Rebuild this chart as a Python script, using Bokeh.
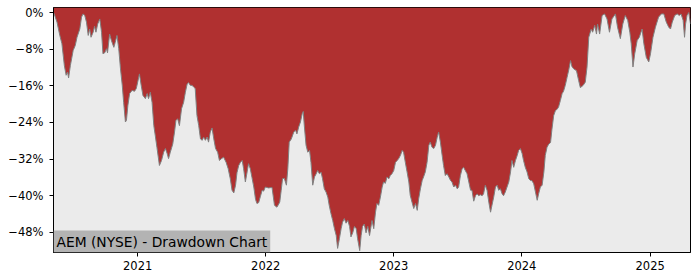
import pandas as pd
from bokeh.plotting import figure
from bokeh.models import Range1d, FixedTicker, Label, ColumnDataSource, DatetimeTickFormatter
from bokeh.embed import file_html
from bokeh.resources import INLINE

dates = [
    "2020-05-06", "2020-05-08", "2020-05-16", "2020-05-24", "2020-05-30", "2020-06-06", "2020-06-11",
    "2020-06-15", "2020-06-18", "2020-06-23", "2020-07-01", "2020-07-07", "2020-07-12", "2020-07-20",
    "2020-07-25", "2020-07-29", "2020-08-03", "2020-08-08", "2020-08-13", "2020-08-17", "2020-08-21",
    "2020-08-27", "2020-08-31", "2020-09-04", "2020-09-09", "2020-09-15", "2020-09-20", "2020-09-24",
    "2020-09-29", "2020-10-04", "2020-10-07", "2020-10-13", "2020-10-18", "2020-10-25", "2020-10-29",
    "2020-11-03", "2020-11-08", "2020-11-13", "2020-11-18", "2020-11-22", "2020-11-27", "2020-11-30",
    "2020-12-04", "2020-12-09", "2020-12-16", "2020-12-23", "2020-12-28", "2021-01-01", "2021-01-06",
    "2021-01-11", "2021-01-16", "2021-01-23", "2021-01-28", "2021-02-01", "2021-02-06", "2021-02-11",
    "2021-02-16", "2021-02-20", "2021-02-25", "2021-03-04", "2021-03-10", "2021-03-16", "2021-03-21",
    "2021-03-26", "2021-03-30", "2021-04-04", "2021-04-11", "2021-04-16", "2021-04-20", "2021-04-25",
    "2021-04-30", "2021-05-06", "2021-05-12", "2021-05-17", "2021-05-22", "2021-05-26", "2021-05-31",
    "2021-06-05", "2021-06-10", "2021-06-14", "2021-06-19", "2021-06-24", "2021-06-29", "2021-07-04",
    "2021-07-08", "2021-07-13", "2021-07-18", "2021-07-22", "2021-07-27", "2021-08-01", "2021-08-06",
    "2021-08-11", "2021-08-17", "2021-08-22", "2021-08-28", "2021-09-03", "2021-09-10", "2021-09-16",
    "2021-09-22", "2021-09-27", "2021-10-02", "2021-10-07", "2021-10-11", "2021-10-16", "2021-10-21",
    "2021-10-26", "2021-10-30", "2021-11-04", "2021-11-09", "2021-11-13", "2021-11-18", "2021-11-23",
    "2021-11-28", "2021-12-03", "2021-12-07", "2021-12-12", "2021-12-17", "2021-12-22", "2021-12-26",
    "2021-12-31", "2022-01-09", "2022-01-19", "2022-01-26", "2022-02-02", "2022-02-10", "2022-02-14",
    "2022-02-18", "2022-02-23", "2022-03-01", "2022-03-05", "2022-03-09", "2022-03-15", "2022-03-22",
    "2022-03-27", "2022-03-31", "2022-04-05", "2022-04-10", "2022-04-15", "2022-04-18", "2022-04-21",
    "2022-04-26", "2022-05-01", "2022-05-06", "2022-05-10", "2022-05-15", "2022-05-20", "2022-05-25",
    "2022-05-29", "2022-06-03", "2022-06-08", "2022-06-12", "2022-06-17", "2022-06-22", "2022-06-27",
    "2022-07-01", "2022-07-06", "2022-07-11", "2022-07-16", "2022-07-21", "2022-07-25", "2022-07-30",
    "2022-08-04", "2022-08-08", "2022-08-13", "2022-08-18", "2022-08-23", "2022-08-28", "2022-09-01",
    "2022-09-06", "2022-09-11", "2022-09-16", "2022-09-20", "2022-09-26", "2022-09-30", "2022-10-04",
    "2022-10-09", "2022-10-14", "2022-10-19", "2022-10-24", "2022-10-31", "2022-11-05", "2022-11-10",
    "2022-11-14", "2022-11-19", "2022-11-24", "2022-11-29", "2022-12-03", "2022-12-08", "2022-12-13",
    "2022-12-18", "2022-12-22", "2022-12-27", "2023-01-01", "2023-01-06", "2023-01-11", "2023-01-15",
    "2023-01-20", "2023-01-25", "2023-01-29", "2023-02-03", "2023-02-08", "2023-02-13", "2023-02-17",
    "2023-02-22", "2023-02-27", "2023-03-04", "2023-03-09", "2023-03-13", "2023-03-18", "2023-03-23",
    "2023-03-27", "2023-04-01", "2023-04-06", "2023-04-11", "2023-04-15", "2023-04-20", "2023-04-25",
    "2023-04-30", "2023-05-05", "2023-05-09", "2023-05-14", "2023-05-19", "2023-05-23", "2023-05-28",
    "2023-06-02", "2023-06-07", "2023-06-12", "2023-06-16", "2023-06-21", "2023-06-26", "2023-07-01",
    "2023-07-05", "2023-07-10", "2023-07-15", "2023-07-19", "2023-07-24", "2023-07-29", "2023-08-03",
    "2023-08-08", "2023-08-12", "2023-08-17", "2023-08-22", "2023-08-27", "2023-08-31", "2023-09-05",
    "2023-09-10", "2023-09-14", "2023-09-19", "2023-09-24", "2023-09-29", "2023-10-04", "2023-10-08",
    "2023-10-13", "2023-10-18", "2023-10-23", "2023-10-27", "2023-11-01", "2023-11-06", "2023-11-10",
    "2023-11-15", "2023-11-20", "2023-11-25", "2023-11-30", "2023-12-04", "2023-12-09", "2023-12-14",
    "2023-12-19", "2023-12-23", "2023-12-28", "2024-01-02", "2024-01-06", "2024-01-11", "2024-01-16",
    "2024-01-21", "2024-01-26", "2024-01-30", "2024-02-04", "2024-02-09", "2024-02-14", "2024-02-18",
    "2024-02-23", "2024-02-28", "2024-03-04", "2024-03-08", "2024-03-13", "2024-03-18", "2024-03-23",
    "2024-03-27", "2024-04-01", "2024-04-06", "2024-04-11", "2024-04-15", "2024-04-20", "2024-04-25",
    "2024-04-29", "2024-05-04", "2024-05-09", "2024-05-14", "2024-05-19", "2024-05-23", "2024-05-28",
    "2024-06-05", "2024-06-11", "2024-06-16", "2024-06-24", "2024-06-30", "2024-07-05", "2024-07-10",
    "2024-07-17", "2024-07-21", "2024-07-27", "2024-08-01", "2024-08-04", "2024-08-10", "2024-08-17",
    "2024-08-24", "2024-08-31", "2024-09-07", "2024-09-14", "2024-09-24", "2024-09-30", "2024-10-08",
    "2024-10-15", "2024-10-22", "2024-10-29", "2024-11-04", "2024-11-08", "2024-11-13", "2024-11-18",
    "2024-11-25", "2024-12-01", "2024-12-09", "2024-12-14", "2024-12-21", "2024-12-28", "2025-01-02",
    "2025-01-09", "2025-01-16", "2025-01-25", "2025-02-02", "2025-02-09", "2025-02-16", "2025-02-23",
    "2025-02-28", "2025-03-05", "2025-03-12", "2025-03-19", "2025-03-25", "2025-03-30", "2025-04-05",
    "2025-04-09", "2025-04-12", "2025-04-16", "2025-04-21", "2025-04-26",
]

drawdown = [
    0.0, -0.3, -2.1, -5.0, -6.8, -11.6, -13.7,
    -13.0, -14.3, -11.6, -8.3, -7.2, -5.4, -3.6,
    -1.0, -0.3, -0.6, -2.1, -5.0, -3.6, -5.4,
    -4.3, -3.0, -4.3, -2.5, -1.4, -4.3, -9.0,
    -8.8, -7.9, -8.8, -4.7, -6.1, -7.6, -6.5,
    -5.0, -7.9, -12.3, -15.9, -19.6, -23.9, -23.5,
    -20.3, -17.7, -17.0, -17.2, -16.6, -15.2, -13.4,
    -15.9, -18.1, -18.8, -17.7, -18.8, -17.4, -19.6,
    -24.7, -26.8, -29.5, -33.4, -32.3, -30.5, -29.7,
    -30.8, -31.9, -30.5, -28.7, -26.1, -23.6, -23.2,
    -24.7, -21.0, -19.6, -17.4, -15.6, -15.3, -15.9,
    -15.9, -16.3, -16.6, -22.5, -24.7, -27.6, -27.9,
    -27.2, -27.9, -27.2, -28.3, -26.1, -25.2, -27.6,
    -29.7, -30.5, -32.3, -31.9, -31.6, -32.7, -34.1,
    -36.3, -38.8, -39.4, -37.7, -35.0, -33.4, -32.7,
    -32.3, -34.1, -37.0, -34.8, -33.0, -34.1, -36.1,
    -38.1, -40.8, -41.7, -41.5, -40.1, -38.8, -39.0,
    -38.1, -38.3, -38.2, -42.1, -42.5, -41.4, -38.9,
    -36.3, -36.2, -37.7, -34.1, -28.3, -27.6, -26.1,
    -25.7, -26.5, -25.0, -23.9, -22.1, -21.6, -24.7,
    -29.0, -30.5, -30.1, -32.7, -37.7, -35.9, -35.2,
    -34.5, -35.2, -34.9, -36.3, -38.5, -39.2, -40.3,
    -42.1, -43.9, -45.4, -47.2, -48.7, -51.5, -49.4,
    -47.2, -45.8, -45.0, -46.0, -45.4, -46.7, -49.0,
    -48.1, -46.7, -47.2, -49.4, -52.0, -48.7, -46.7,
    -46.2, -48.1, -46.7, -48.7, -45.4, -47.2, -43.6,
    -41.7, -42.1, -40.3, -38.1, -37.0, -37.3, -35.9,
    -36.3, -35.6, -35.2, -34.5, -32.7, -32.3, -31.9,
    -31.2, -30.1, -30.5, -32.7, -34.8, -37.0, -39.9,
    -41.4, -42.8, -41.7, -43.2, -40.7, -38.5, -36.7,
    -35.9, -34.8, -32.7, -29.0, -28.3, -29.4, -29.7,
    -29.0, -27.2, -26.1, -28.3, -31.2, -33.4, -35.6,
    -35.2, -35.9, -36.7, -37.0, -38.1, -37.7, -38.5,
    -38.1, -35.6, -34.1, -33.8, -34.5, -35.2, -37.0,
    -38.8, -38.8, -41.2, -40.0, -39.6, -40.0, -39.8,
    -40.0, -39.6, -37.7, -38.8, -41.4, -43.6, -42.1,
    -40.3, -38.1, -37.7, -38.8, -38.5, -39.6, -40.0,
    -39.2, -38.1, -37.0, -34.8, -32.3, -33.8, -32.3,
    -31.2, -30.1, -29.7, -30.8, -32.3, -33.8, -34.8,
    -36.3, -36.7, -36.7, -37.4, -39.2, -41.0, -39.6,
    -38.1, -37.7, -34.8, -31.2, -29.4, -28.7, -28.4,
    -25.5, -22.5, -21.4, -21.1, -20.6, -19.2, -17.7,
    -17.2, -15.9, -14.2, -12.5, -10.5, -11.8, -12.3,
    -12.7, -14.8, -16.4, -15.9, -15.2, -11.9, -5.4,
    -3.6, -4.3, -2.8, -4.7, -2.5, -4.7, -0.65,
    -0.3, -1.4, -4.3, -1.4, -0.3, -3.2, -5.7,
    -2.5, -0.65, -1.7, -4.3, -6.8, -11.9, -9.0,
    -6.1, -5.4, -3.6, -6.8, -9.8, -10.8, -9.0,
    -5.4, -3.2, -1.0, -0.3, -0.3, -2.1, -3.2,
    -3.6, -2.1, -0.65, -0.3, -0.65, -0.3, -1.7,
    -5.4, -2.5, -0.65, 0.0, -2.5,
]

ytick_values = [0, -8, -16, -24, -32, -40, -48]
ytick_labels = ["0%", "\u22128%", "\u221216%", "\u221224%", "\u221232%", "\u221240%", "\u221248%"]
xtick_years = ["2021-01-01", "2022-01-01", "2023-01-01", "2024-01-01", "2025-01-01"]
title_text = "AEM (NYSE) - Drawdown Chart"

y_top = 1.1
y_bottom = -52.4

x = pd.to_datetime(dates)
src = ColumnDataSource(dict(x=x, dd=drawdown, top=[y_top] * len(drawdown)))

p = figure(width=700, height=280, x_axis_type="datetime", output_backend="svg",
           toolbar_location=None,
           x_range=Range1d(x[0], x[-1]), y_range=Range1d(y_bottom, y_top),
           min_border_left=53, min_border_right=10, min_border_top=7, min_border_bottom=28)

p.background_fill_color = "#ebebeb"
p.border_fill_color = "white"
p.outline_line_color = "black"
p.outline_line_width = 1
p.xgrid.visible = False
p.ygrid.visible = False

p.varea(x="x", y1="dd", y2="top", source=src, fill_color="#b03030")
p.line(x="x", y="dd", source=src, line_color="#808080", line_width=1)

p.yaxis.ticker = FixedTicker(ticks=ytick_values)
p.yaxis.major_label_overrides = {v: l for v, l in zip(ytick_values, ytick_labels)}
xt = [pd.Timestamp(d).value // 10**6 for d in xtick_years]
p.xaxis.ticker = FixedTicker(ticks=xt)
p.xaxis.formatter = DatetimeTickFormatter(years="%Y", months="%Y", days="%Y", hours="%Y",
                                          minutes="%Y", seconds="%Y", milliseconds="%Y",
                                          microseconds="%Y", minsec="%Y", hourmin="%Y")

for ax in (p.xaxis[0], p.yaxis[0]):
    ax.axis_line_color = "black"
    ax.major_tick_line_color = "black"
    ax.major_tick_out = 4
    ax.major_tick_in = 0
    ax.minor_tick_line_color = None
    ax.major_label_text_font = "DejaVu Sans"
    ax.major_label_text_font_size = "11.5px"
    ax.major_label_text_color = "black"
p.xaxis.major_label_standoff = 4
p.yaxis.major_label_standoff = 6

lbl = Label(x=x[0], y=y_bottom, x_units="data", y_units="data", text=title_text,
            text_font="DejaVu Sans", text_font_size="13.8px", text_color="black",
            text_align="left", text_baseline="bottom",
            background_fill_color="#b3b3b3", padding=3)
p.add_layout(lbl)

open("out.html", "w").write(file_html(p, INLINE))
